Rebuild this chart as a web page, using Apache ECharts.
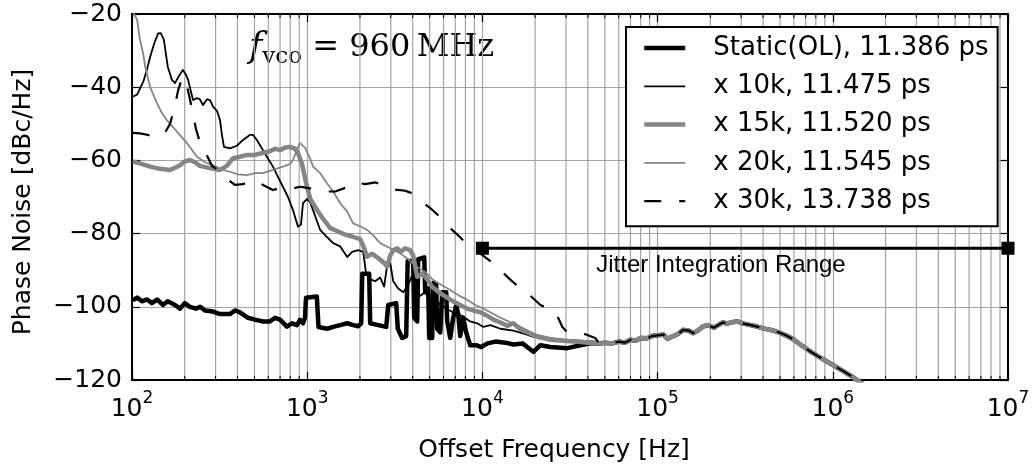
<!DOCTYPE html>
<html>
<head>
<meta charset="utf-8">
<script src="https://cdn.jsdelivr.net/npm/echarts@6/dist/echarts.min.js"></script>
<style>
  html, body { margin: 0; padding: 0; background: #fff; }
  #chart { width: 1034px; height: 464px; }
</style>
</head>
<body>
<div id="chart"></div>
<script>
// Phase noise curves: [offset frequency in Hz, phase noise in dBc/Hz]
const seriesNames = [
  'Static(OL), 11.386 ps',
  'x 10k, 11.475 ps',
  'x 15k, 11.520 ps',
  'x 20k, 11.545 ps',
  'x 30k, 13.738 ps'
];

const staticOL = [
  [101,-98.2],[107,-97.5],[114,-98.5],[122,-98],[130,-99],[139,-98],[150,-99.5],[160,-98.5],
  [176,-99.5],[188,-100.5],[200,-99],[214,-100],[232,-100.5],[245,-100],[261,-101],[290,-101.3],
  [318,-102],[362,-102],[387,-101],[413,-101.5],[459,-103],[503,-103.5],[560,-104],[613,-104],
  [655,-103],[700,-103.5],[766,-105.4],[818,-104.5],[874,-105],[910,-103.6],[946,-104.5],[971,-103],
  [985,-97.5],[1135,-97.2],[1160,-105.5],[1186,-105.8],[1300,-106],[1407,-105.5],[1543,-105],
  [1692,-104.5],[1830,-105],[1955,-105.3],[2034,-104.5],[2061,-91],[2258,-91],[2288,-104.5],
  [2543,-105],[2825,-105.5],[2900,-99.5],[3220,-99],[3290,-106],[3485,-108.5],[3673,-108],
  [3745,-87.5],[4027,-87.5],[4080,-103],[4245,-104],[4301,-87],[4655,-86.5],[4716,-96],[4905,-95],
  [4970,-108.5],[5170,-108.5],[5240,-93.5],[5447,-94],[5520,-106],[5744,-107],[5896,-96],[6214,-96],
  [6296,-104],[6550,-108.5],[6812,-103],[7088,-99.5],[7274,-102],[7470,-108],[7770,-103],[8080,-107],
  [8520,-110.5],[9220,-110.5],[9840,-111],[10700,-110],[11860,-109.5],[13530,-109.8],[15030,-110.3],
  [16920,-110],[19550,-112.3],[21430,-110.5],[24440,-111],[30560,-111.3],[36250,-110.5],[41340,-110]
];

const loop10k = [
  [101,-42.6],[107,-42],[116,-38.5],[122,-35],[127,-31.7],[134,-28],[141,-25.3],[146,-25.2],
  [152,-27],[160,-34.4],[169,-38],[176,-38.9],[185,-37],[195,-35.3],[203,-36.5],[209,-38],
  [223,-43.5],[235,-43],[244,-43.3],[254,-44.9],[268,-43.3],[279,-43.5],[290,-45.3],[306,-46.5],
  [318,-49],[326,-53],[335,-56.3],[362,-56.7],[397,-56],[430,-54.4],[472,-53],[490,-53],
  [517,-54.5],[559,-57.2],[597,-59.5],[638,-61.7],[681,-64.5],[727,-67.2],[777,-70],[830,-73.6],
  [886,-78.1],[922,-77.5],[946,-71.7],[1000,-70.5],[1040,-71.5],[1080,-73.6],[1186,-79],[1300,-81],
  [1407,-82.6],[1543,-83.5],[1692,-86.4],[1805,-85],[1955,-84.5],[2088,-85],[2170,-91],[2288,-92.5],
  [2444,-93],[2610,-92],[2750,-94.5],[2862,-88.5],[2976,-88],[3097,-93],[3307,-95],[3540,-96],
  [3771,-94],[3970,-91.5],[4190,-96.5],[4416,-97],[4716,-96],[5030,-98.5],[5377,-98],[5744,-99.5],
  [6296,-100.5],[6980,-102],[7670,-102.5],[8520,-104],[9340,-104.5],[10130,-105.5],[11100,-105],
  [12670,-106],[15030,-106.5],[17600,-107.5],[19550,-108.2],[22880,-108.5],[29000,-109],
  [36250,-109.3],[44160,-109.5]
];

const loop15k = [
  [101,-60.3],[111,-60.8],[127,-61.7],[144,-62.3],[165,-62.6],[176,-62],[188,-61.3],[200,-60.3],
  [214,-59.9],[229,-60.5],[244,-61.5],[279,-62.1],[318,-62.6],[348,-61.5],[377,-59.4],[413,-59],
  [453,-58.5],[503,-58.5],[559,-57.9],[613,-57.5],[655,-56.8],[700,-57.2],[747,-56.5],[798,-56.3],
  [852,-56.8],[886,-58],[934,-61],[984,-66],[1040,-70.5],[1140,-73.6],[1234,-76],[1353,-78.5],
  [1483,-79.3],[1648,-80.3],[1806,-80.8],[2007,-81.5],[2115,-84],[2200,-86.3],[2350,-85.5],
  [2509,-86.5],[2750,-88],[2862,-89],[2976,-86],[3097,-84.5],[3264,-84],[3400,-85],[3630,-84],
  [3872,-84.5],[4027,-86],[4245,-91.8],[4533,-91],[4842,-92.5],[5170,-94.5],[5744,-96.3],
  [6296,-97.5],[6812,-98.5],[7470,-99.5],[8190,-100.5],[8860,-101],[9740,-101.5],[10700,-102.5],
  [11560,-103.5],[12670,-104.3],[13890,-105.2],[15030,-104.5],[16480,-106.2],[18060,-107],
  [20610,-108.2],[24440,-109],[29000,-109.3],[36250,-109.6],[44160,-110]
];

const loop20k = [
  [100,-18.5],[104,-20.5],[107,-21.6],[111,-27],[116,-31],[119,-34.4],[127,-40],[139,-44.4],
  [148,-47],[158,-49],[181,-52.2],[206,-55.3],[235,-59],[261,-60.5],[290,-61.3],[326,-62.5],
  [362,-63.1],[403,-63.8],[453,-64],[503,-63.5],[559,-63.5],[638,-62.6],[727,-61.7],[798,-61],
  [830,-59.9],[874,-57],[910,-55.3],[934,-54.8],[971,-56.5],[1040,-59.5],[1080,-61.7],[1186,-63.5],
  [1300,-66.3],[1407,-68.5],[1543,-71.7],[1692,-74],[1830,-77.2],[2007,-78],[2200,-79],[2381,-80.5],
  [2610,-82.6],[2976,-84],[3400,-85.4],[3771,-87],[4245,-89.1],[4716,-90.5],[5240,-92.7],
  [5820,-94],[6550,-95.4],[7274,-96.8],[8190,-98.1],[9100,-99.5],[10130,-100.5],[11100,-101.5],
  [12670,-103],[14370,-104.2],[16480,-105.5],[18790,-106.8],[20610,-107.7],[24440,-108.5],
  [29000,-109],[36250,-109.2],[44160,-109.5]
];

const loop30k = [
  [101,-52.5],[111,-52.6],[122,-53],[135,-53.5],[144,-53.5],[154,-52.5],[165,-50],[176,-45],
  [183,-41],[193,-37.5],[200,-37.5],[209,-41],[220,-46],[232,-51.5],[244,-55],[261,-57.5],
  [286,-61.5],[318,-63],[348,-65],[387,-66.7],[430,-66.5],[472,-65.5],[517,-65.8],[574,-67],
  [638,-68.1],[700,-67.5],[767,-67],[852,-67.5],[910,-67.2],[1000,-67.5],[1140,-68],[1300,-68.5],
  [1445,-68.5],[1648,-67.5],[1879,-66],[2143,-66.5],[2444,-66],[2788,-67],[3179,-68],[3630,-68.3],
  [3970,-69],[4416,-71],[5030,-73],[5744,-75.5],[6550,-78.5],[7470,-81],[8520,-84],[9740,-85.5],
  [11100,-87.5],[12670,-90],[14370,-92.5],[16480,-95],[18790,-97],[21430,-99.5],[24440,-100.7],
  [26450,-102],[28620,-105.5],[30560,-107],[33950,-107.2],[38720,-107.5],[44000,-108.5]
];

// Common roll-off shared by all loop settings above ~50 kHz
const sharedRollOff = [
  [46500,-110],[50000,-109.8],[55000,-110],[60000,-109.5],[65000,-109.8],[70000,-109],[75000,-109.3],
  [80000,-108.5],[87000,-108.6],[93000,-108],[100000,-107.8],[108000,-107.6],[114000,-108.8],
  [120000,-108.2],[130000,-107.5],[140000,-106.3],[150000,-106.5],[160000,-107.2],[170000,-106.5],
  [180000,-105.5],[192000,-105],[200000,-105.3],[210000,-105.7],[225000,-104.8],[236000,-104.3],
  [250000,-104.6],[265000,-104.2],[285000,-104],[310000,-104.6],[340000,-105],[370000,-105.4],
  [400000,-105.9],[450000,-106.4],[500000,-107.1],[550000,-108],[600000,-109],[670000,-110.7],
  [750000,-112.3],[830000,-113.6],[930000,-115],[1050000,-116.5],[1160000,-117.7],[1300000,-119.2],
  [1450000,-120.8],[1700000,-123]
];

// Integration range for the jitter figures
const jitterRange = [[1e4, -84], [1e7, -84]];
const jitterLabelAt = [2.3e5, -88.6];

const yTicks = [-120, -100, -80, -60, -40, -20];
const xMin = 1e2, xMax = 1e7;

// minor decade subdivisions 2..9 for the log grid
const minorTicks = [];
for (let d = 2; d < 7; d++) {
  for (let m = 2; m <= 9; m++) minorTicks.push([m * Math.pow(10, d), yTicks[0]]);
}

const sansFont = 'DejaVu Sans';
const gridGray = '#a3a3a3';
const curveGray = '#858585';

// line width and colour per curve, in legend order
const curveStyles = [
  { color: '#000', width: 4.5 },
  { color: '#000', width: 1.8 },
  { color: curveGray, width: 4.5 },
  { color: curveGray, width: 1.8 },
  { color: '#000', width: 2.2, type: [17, 18] }
];

const chart = echarts.init(document.getElementById('chart'), null, { renderer: 'canvas' });

function lineSeries(i, data) {
  const st = curveStyles[i];
  return {
    name: seriesNames[i], type: 'line', data, xAxisIndex: 0, yAxisIndex: 0,
    symbol: 'none', showSymbol: false, clip: true, silent: true,
    lineStyle: { color: st.color, width: st.width, type: st.type || 'solid', join: 'round', cap: 'butt' },
    itemStyle: { color: st.color }
  };
}

const superDigits = v => String(Math.round(Math.log10(v)));

const option = {
  animation: false,
  backgroundColor: '#fff',
  grid: { left: 132, right: 26, top: 14, bottom: 84, containLabel: false, outerBoundsMode: 'none' },
  xAxis: [
    {
      type: 'log', logBase: 10, min: xMin, max: xMax, position: 'bottom', splitNumber: 5,
      name: 'Offset Frequency [Hz]', nameLocation: 'middle', nameGap: 58,
      nameTextStyle: { fontFamily: sansFont, fontSize: 25, color: '#000', padding: [0, 32, 0, 0] },
      axisLine: { show: true, lineStyle: { color: '#000', width: 2 } },
      axisTick: { show: true, inside: true, length: 8, lineStyle: { color: '#000', width: 1.2 } },
      minorTick: { show: false },
      splitLine: { show: true, lineStyle: { color: gridGray, width: 1.2 } },
      axisLabel: {
        margin: 10, color: '#000',
        formatter: v => '{b|10}{s|' + superDigits(v) + '}',
        rich: {
          b: { fontFamily: sansFont, fontSize: 25, lineHeight: 32, verticalAlign: 'bottom', color: '#000' },
          s: { fontFamily: sansFont, fontSize: 17, lineHeight: 20, verticalAlign: 'top', color: '#000' }
        }
      }
    },
    {
      type: 'log', logBase: 10, min: xMin, max: xMax, position: 'top', splitNumber: 5,
      axisLine: { show: true, lineStyle: { color: '#000', width: 2 } },
      axisTick: { show: true, inside: true, length: 8, lineStyle: { color: '#000', width: 1.2 } },
      axisLabel: { show: false }, splitLine: { show: false }
    }
  ],
  yAxis: [
    {
      type: 'value', min: yTicks[0], max: yTicks[yTicks.length - 1], interval: 20, position: 'left',
      name: 'Phase Noise [dBc/Hz]', nameLocation: 'middle', nameGap: 96, nameRotate: 90,
      nameTextStyle: { fontFamily: sansFont, fontSize: 25, color: '#000', padding: [0, 10, 0, 0] },
      axisLine: { show: true, lineStyle: { color: '#000', width: 2 } },
      axisTick: { show: true, inside: true, length: 8, lineStyle: { color: '#000', width: 1.2 } },
      splitLine: { show: true, lineStyle: { color: gridGray, width: 1.2 } },
      axisLabel: {
        margin: 10, color: '#000', fontFamily: sansFont, fontSize: 25,
        formatter: v => String(v).replace('-', '\u2212')
      }
    },
    {
      type: 'value', min: yTicks[0], max: yTicks[yTicks.length - 1], interval: 20, position: 'right',
      axisLine: { show: true, lineStyle: { color: '#000', width: 2 } },
      axisTick: { show: true, inside: true, length: 8, lineStyle: { color: '#000', width: 1.2 } },
      axisLabel: { show: false }, splitLine: { show: false }
    }
  ],
  legend: {
    data: seriesNames.map((name, i) => ({
      name,
      lineStyle: { width: curveStyles[i].width, color: curveStyles[i].color, type: curveStyles[i].type || 'solid' }
    })),
    orient: 'vertical', left: 626, top: 27,
    padding: [6, 9, 10, 16],
    itemWidth: 41, itemHeight: 14, itemGap: 8.3,
    backgroundColor: '#fff', borderColor: '#000', borderWidth: 2, borderRadius: 0,
    itemStyle: { opacity: 0 },
    textStyle: { fontFamily: sansFont, fontSize: 26, color: '#000', lineHeight: 30, padding: [0, 0, 0, 23] },
    selectedMode: false
  },
  graphic: [
    {
      type: 'text', left: 249, top: 30, silent: true,
      style: {
        text: '{f|f}{s|vco}{r| = 960\u2009MHz}',
        rich: {
          f: { fontFamily: 'DejaVu Serif', fontStyle: 'italic', fontSize: 36, lineHeight: 42, fill: '#000' },
          s: { fontFamily: 'DejaVu Serif', fontSize: 23, lineHeight: 23, verticalAlign: 'bottom', fill: '#000' },
          r: { fontFamily: 'DejaVu Serif', fontSize: 32, lineHeight: 42, fill: '#000' }
        }
      }
    }
  ],
  series: [
    {
      name: 'minor grid', type: 'custom', xAxisIndex: 0, yAxisIndex: 0, z: 1, silent: true,
      data: minorTicks,
      renderItem: (params, api) => {
        const v = api.value(0);
        const top = api.coord([v, yTicks[yTicks.length - 1]]);
        const bot = api.coord([v, yTicks[0]]);
        return {
          type: 'group',
          children: [
            { type: 'line', shape: { x1: top[0], y1: top[1] + 1, x2: bot[0], y2: bot[1] - 1 },
              style: { stroke: gridGray, lineWidth: 1.2 } },
            { type: 'line', shape: { x1: bot[0], y1: bot[1], x2: bot[0], y2: bot[1] - 4 },
              style: { stroke: '#000', lineWidth: 1 } },
            { type: 'line', shape: { x1: top[0], y1: top[1], x2: top[0], y2: top[1] + 4 },
              style: { stroke: '#000', lineWidth: 1 } }
          ]
        };
      }
    },
    lineSeries(0, staticOL.concat(sharedRollOff)),
    lineSeries(1, loop10k.concat(sharedRollOff)),
    lineSeries(2, loop15k.concat(sharedRollOff)),
    lineSeries(3, loop20k.concat(sharedRollOff)),
    lineSeries(4, loop30k.concat(sharedRollOff)),
    {
      name: 'Jitter Integration Range', type: 'line', data: jitterRange, z: 5, clip: false, silent: true,
      symbol: 'rect', symbolSize: 13, showSymbol: true,
      lineStyle: { color: '#000', width: 3 }, itemStyle: { color: '#000' },
      markPoint: {
        silent: true, symbol: 'rect', symbolSize: 1, itemStyle: { color: 'rgba(0,0,0,0)' },
        data: [{ coord: jitterLabelAt }],
        label: {
          show: true, position: 'inside', formatter: 'Jitter Integration Range',
          fontFamily: 'Liberation Sans', fontSize: 24, color: '#000'
        }
      }
    }
  ]
};

chart.setOption(option);
</script>
</body>
</html>
